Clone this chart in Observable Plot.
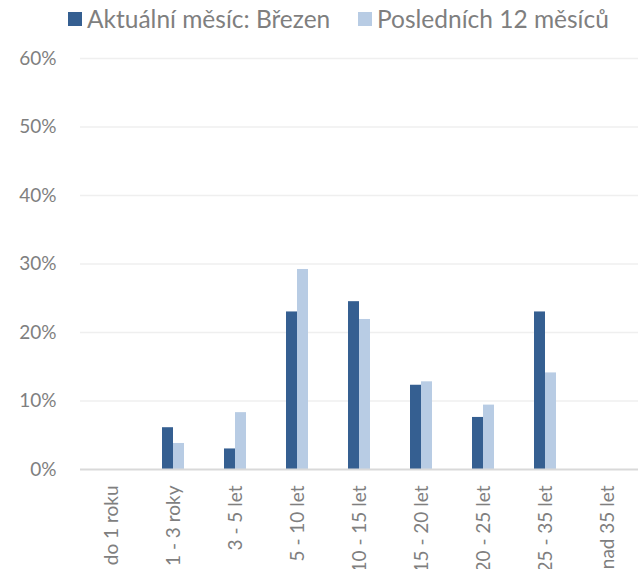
<!DOCTYPE html>
<html>
<head>
<meta charset="utf-8">
<script src="https://cdn.jsdelivr.net/npm/d3@7"></script>
<script src="https://cdn.jsdelivr.net/npm/@observablehq/plot@0.6"></script>
<style>
  html, body { margin: 0; padding: 0; background: #fff; }
  body { width: 641px; height: 569px; overflow: hidden; font-family: Lato, "Open Sans", sans-serif; }
  #legend { position: relative; height: 40px; color: #7F7F7F; font-size: 24.5px; }
  .item { position: absolute; top: 4px; display: flex; align-items: center; white-space: nowrap; }
  .sw { width: 14px; height: 14px; margin-right: 5px; display: inline-block; }
</style>
</head>
<body>
<div id="legend"></div>
<div id="chart"></div>
<script>
const categories = ["do 1 roku", "1 - 3 roky", "3 - 5 let", "5 - 10 let", "10 - 15 let", "15 - 20 let", "20 - 25 let", "25 - 35 let", "nad 35 let"];
const seriesNames = ["Aktuální měsíc: Březen", "Posledních 12 měsíců"];
const currentMonth = [0, 6.1, 3.0, 23.0, 24.5, 12.3, 7.6, 23.0, 0];
const last12Months = [0, 3.8, 8.3, 29.2, 21.9, 12.8, 9.4, 14.1, 0];
const yTicks = [0, 10, 20, 30, 40, 50, 60];
const colors = ["#355F91", "#B8CCE4"];

const data = [];
categories.forEach((c, i) => {
  data.push({cat: c, series: seriesNames[0], value: currentMonth[i]});
  data.push({cat: c, series: seriesNames[1], value: last12Months[i]});
});

// legend
const legend = document.getElementById("legend");
const legendX = [68, 358];
seriesNames.forEach((s, i) => {
  const it = document.createElement("div");
  it.className = "item";
  it.style.left = legendX[i] + "px";
  const sw = document.createElement("span");
  sw.className = "sw";
  sw.style.background = colors[i];
  it.appendChild(sw);
  const t = document.createElement("span");
  t.textContent = s;
  it.appendChild(t);
  legend.appendChild(it);
});

const chart = Plot.plot({
  width: 641,
  height: 529,
  marginLeft: 76,
  marginRight: 0,
  marginTop: 18,
  marginBottom: 100,
  style: {fontFamily: "Lato, 'Open Sans', sans-serif", color: "#7F7F7F", background: "#fff"},
  fx: {domain: categories, padding: 0, label: null, axis: null},
  x: {domain: seriesNames, paddingInner: 0, paddingOuter: 1.73, axis: null},
  y: {domain: [0, 60], label: null, axis: null},
  color: {domain: seriesNames, range: colors},
  marks: [
    Plot.ruleY(yTicks.filter(d => d > 0), {stroke: "#EFEFEF", strokeWidth: 1.5}),
    Plot.barY(data, {fx: "cat", x: "series", y: "value", fill: "series"}),
    Plot.ruleY([0], {stroke: "#D9D9D9", strokeWidth: 2}),
    Plot.axisY({ticks: yTicks, tickFormat: d => d + "%", tickSize: 0, tickPadding: 24, fontSize: 19, label: null}),
    Plot.axisFx({anchor: "bottom", tickRotate: -90, tickSize: 0, tickPadding: 16, fontSize: 19, label: null})
  ]
});
document.getElementById("chart").appendChild(chart);
</script>
</body>
</html>
